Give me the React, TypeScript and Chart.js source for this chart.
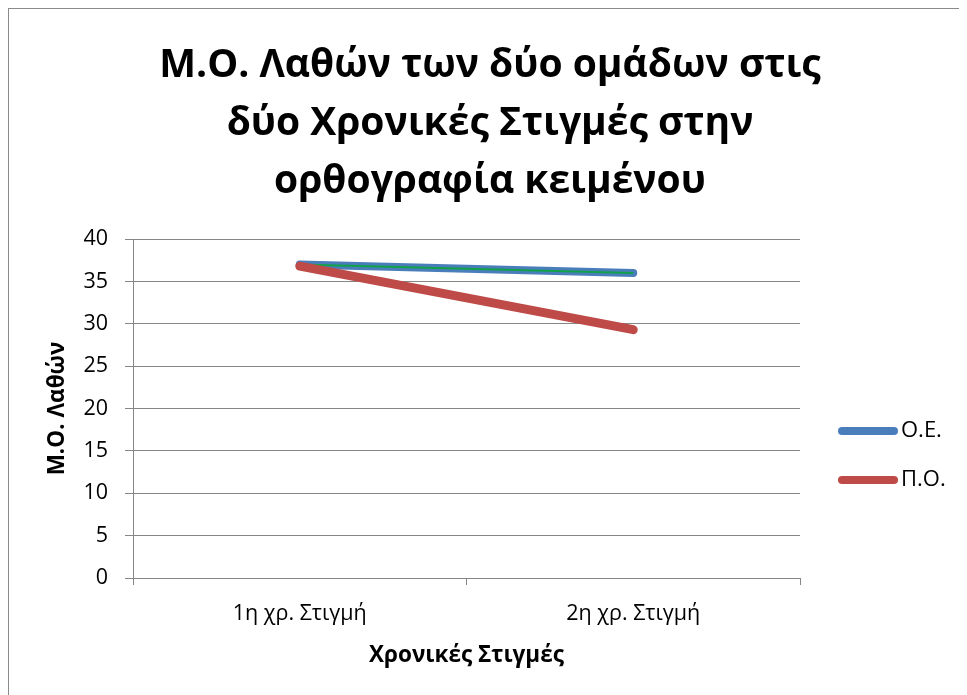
import React, { useEffect, useRef } from "react";
import { Chart, registerables } from "chart.js";

Chart.register(...registerables);

const categories = ["1η χρ. Στιγμή", "2η χρ. Στιγμή"];
const seriesOE = [37.0, 36.0];
const seriesPO = [36.8, 29.3];
const seriesOEInner = [37.0, 36.0];
const titleLines = [
  "Μ.Ο. Λαθών των δύο ομάδων στις",
  "δύο Χρονικές Στιγμές στην",
  "ορθογραφία κειμένου",
];
const yAxisTitle = "Μ.Ο. Λαθών";
const xAxisTitle = "Χρονικές Στιγμές";

const FONT = "'Open Sans', 'Noto Sans', sans-serif";
const GRID = "#868686";

// Legend drawn beside the plot: a rounded stroke sample followed by the series name.
const sideLegend = {
  id: "sideLegend",
  afterDraw(chart: any, _args: any, opts: any) {
    const { ctx, chartArea } = chart;
    const midY = (chartArea.top + chartArea.bottom) / 2;
    let row = 0;
    chart.data.datasets.forEach((ds: any) => {
      if (!ds.label) return;
      const y = midY + opts.firstOffset + row * opts.rowGap;
      const x0 = chartArea.right + opts.startX;
      ctx.save();
      ctx.strokeStyle = ds.borderColor;
      ctx.lineWidth = opts.lineWidth;
      ctx.lineCap = "round";
      ctx.beginPath();
      ctx.moveTo(x0, y);
      ctx.lineTo(x0 + opts.sampleLength, y);
      ctx.stroke();
      ctx.fillStyle = "#000";
      ctx.font = `${opts.fontSize}px ${FONT}`;
      ctx.textBaseline = "middle";
      ctx.textAlign = "left";
      ctx.fillText(ds.label, x0 + opts.sampleLength + opts.textGap, y);
      ctx.restore();
      row++;
    });
  },
};

export default function App() {
  const canvasRef = useRef<HTMLCanvasElement | null>(null);

  useEffect(() => {
    document.body.style.overflow = "hidden";
    const canvas = canvasRef.current;
    if (!canvas) return;
    const chart = new Chart(canvas, {
      type: "line",
      data: {
        labels: categories,
        datasets: [
          {
            label: "Ο.Ε.",
            data: seriesOE,
            borderColor: "#4a7ebb",
            backgroundColor: "#4a7ebb",
            borderWidth: 8,
            borderCapStyle: "round",
            pointRadius: 0,
            order: 2,
          },
          {
            label: "Π.Ο.",
            data: seriesPO,
            borderColor: "#be4b48",
            backgroundColor: "#be4b48",
            borderWidth: 9,
            borderCapStyle: "round",
            pointRadius: 0,
            order: 0,
          },
          {
            label: "",
            data: seriesOEInner,
            borderColor: "#12a14b",
            backgroundColor: "#12a14b",
            borderWidth: 2,
            pointRadius: 0,
            order: 1,
          },
        ],
      },
      options: {
        animation: false,
        responsive: false,
        devicePixelRatio: 1,
        layout: { padding: { left: 4, right: 0, top: 0, bottom: 0 } },
        plugins: {
          legend: { display: false },
          tooltip: { enabled: false },
          title: {
            display: true,
            text: titleLines,
            color: "#000",
            font: { family: FONT, size: 39, weight: "bold", lineHeight: 58 / 39 },
            padding: { top: 28, bottom: 28 },
          },
          sideLegend: {
            startX: 42,
            sampleLength: 52,
            textGap: 7,
            lineWidth: 8,
            fontSize: 22,
            firstOffset: 22.5,
            rowGap: 49,
          },
        } as any,
        scales: {
          x: {
            type: "category",
            offset: true,
            afterFit: (scale: any) => {
              scale.height = 117;
            },
            grid: {
              display: true,
              offset: true,
              drawOnChartArea: false,
              drawTicks: true,
              tickLength: 7,
              color: GRID,
            },
            border: { display: true, color: GRID, width: 1 },
            ticks: {
              color: "#000",
              padding: 16,
              font: { family: FONT, size: 21.5 },
            },
            title: {
              display: true,
              text: xAxisTitle,
              color: "#000",
              font: { family: FONT, size: 22.5, weight: "bold" },
              padding: { top: 0, bottom: 25.5 },
            },
          },
          y: {
            min: 0,
            max: 40,
            afterFit: (scale: any) => {
              scale.width = 120;
            },
            grid: {
              color: GRID,
              tickLength: 8,
              drawTicks: true,
            },
            border: { display: true, color: GRID, width: 1 },
            ticks: {
              stepSize: 5,
              color: "#000",
              padding: 17,
              font: { family: FONT, size: 21.5 },
            },
            title: {
              display: true,
              text: yAxisTitle,
              color: "#000",
              font: { family: FONT, size: 22.5, weight: "bold" },
              padding: { top: 31.5, bottom: 0 },
            },
          },
          // empty right-hand strip that leaves room for the legend
          side: {
            type: "linear",
            position: "right",
            afterFit: (scale: any) => {
              scale.width = 167;
            },
            grid: { display: false, drawTicks: false },
            border: { display: false },
            ticks: { display: false },
          },
        },
      },
      plugins: [sideLegend],
    });
    return () => chart.destroy();
  }, []);

  return (
    <div
      style={{
        marginLeft: -1,
        marginTop: -1,
        width: 960,
        height: 688,
        boxSizing: "border-box",
        borderTop: "2px solid #8a8a8a",
        borderLeft: "2px solid #8a8a8a",
        background: "#fff",
      }}
    >
      <canvas ref={canvasRef} width={958} height={686} style={{ display: "block" }} />
    </div>
  );
}
